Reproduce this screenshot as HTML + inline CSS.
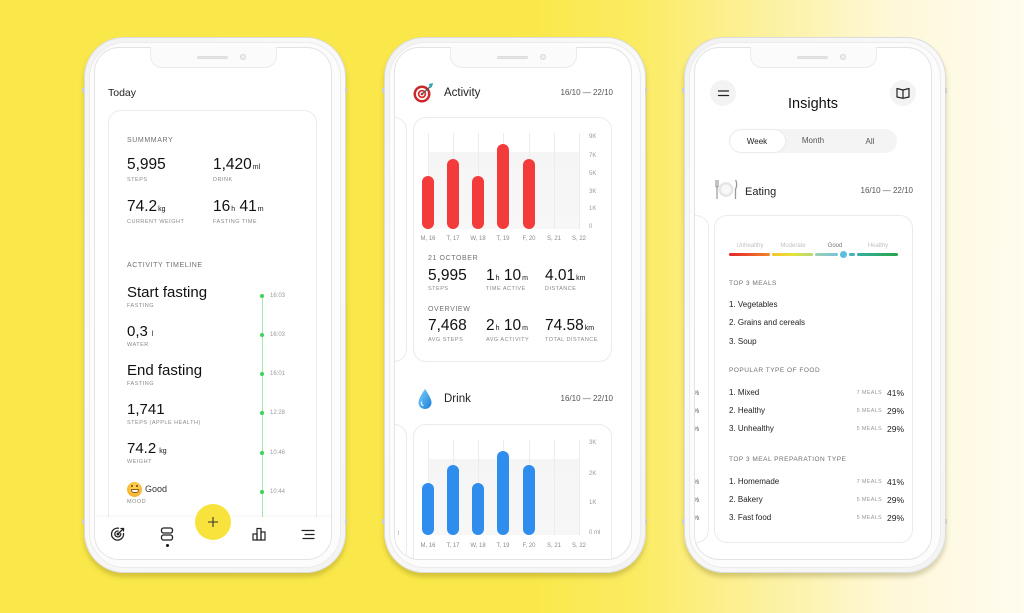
<!DOCTYPE html>
<html><head><meta charset="utf-8">
<style>
*{margin:0;padding:0;box-sizing:border-box}
html,body{width:1024px;height:613px;overflow:hidden}
body{position:relative;background:linear-gradient(90deg,#fae84a 0%,#fae84a 52%,#fbeb62 62%,#fcf1a0 75%,#fef8d8 87%,#fffcf0 100%);font-family:"Liberation Sans",Arial,sans-serif;color:#1a1a1a}
.a{position:absolute}
.t{position:absolute;white-space:nowrap;line-height:1}
.frame{position:absolute;top:37px;width:262px;height:536px;border-radius:40px;background:linear-gradient(135deg,#f2f2f2,#fafafa 40%,#f4f4f4);border:1px solid #dcdcdc;box-shadow:0 4px 5px rgba(95,85,0,.25)}
.ring{position:absolute;left:4px;top:4px;right:4px;bottom:4px;border-radius:36px;border:1px solid #ececec;background:#fcfcfc}
.screen{position:absolute;top:48px;width:236px;height:511px;border-radius:24px;background:#fff;overflow:hidden;box-shadow:0 0 0 1px #e3e3e3}
.in{position:absolute;top:-48px;width:1px;height:1px}
.notch{position:absolute;top:47px;width:127px;height:21px;background:#fbfbfb;border:1px solid #ebebeb;border-top:none;border-radius:0 0 12px 12px}
.spk{position:absolute;top:56px;width:31px;height:3px;border-radius:2px;background:#e6e6e6;border:1px solid #dcdcdc}
.cam{position:absolute;top:54px;width:6px;height:6px;border-radius:50%;background:#f0f0f0;border:1px solid #d6d6d6}
.tick{position:absolute;width:2px;height:5px;background:#cfcfcf}
.card{position:absolute;border:1px solid #ebebeb;border-radius:13px;background:#fff}
.hd{font-size:7px;letter-spacing:.6px;color:#707070}
.lb{font-size:5.5px;letter-spacing:.5px;color:#8a8a8a}
.big{font-size:15.5px;color:#111}
.big span{font-size:7px;margin-left:1px}
.mid{font-size:15px;color:#111}
.tm{font-size:6px;color:#9a9a9a}
.gl{position:absolute;width:1px;background:#ececec}
.bar{position:absolute;width:12px;border-radius:6px}
.yl{font-size:6px;color:#9a9a9a}
.xl{font-size:6px;color:#8a8a8a;width:30px;text-align:center}
.it{font-size:8px;color:#222}
.ml{font-size:5.5px;letter-spacing:.3px;color:#999;width:50px;text-align:right}
.pc{font-size:8.5px;color:#222}
</style></head><body>

<!-- ================= PHONE 1 ================= -->
<div class="frame" style="left:84px"><div class="ring"></div></div>
<div class="tick" style="left:82px;top:88px"></div>
<div class="tick" style="left:345px;top:88px"></div>
<div class="tick" style="left:82px;top:519px"></div>
<div class="tick" style="left:345px;top:519px"></div>
<div class="screen" style="left:95px">
 <div class="in" style="left:-95px">
  <div class="t" style="left:108px;top:88px;font-size:10.5px;color:#222">Today</div>
  <div class="card" style="left:108px;top:110px;width:209px;height:470px"></div>
  <div class="t hd" style="left:127px;top:136.5px">SUMMMARY</div>
  <div class="t big" style="left:127px;top:157px">5,995</div>
  <div class="t big" style="left:213px;top:157px">1,420<span>ml</span></div>
  <div class="t lb" style="left:127px;top:178px">STEPS</div>
  <div class="t lb" style="left:213px;top:178px">DRINK</div>
  <div class="t big" style="left:127px;top:199px">74.2<span>kg</span></div>
  <div class="t big" style="left:213px;top:199px">16<span>h</span> 41<span>m</span></div>
  <div class="t lb" style="left:127px;top:220px">CURRENT WEIGHT</div>
  <div class="t lb" style="left:213px;top:220px">FASTING TIME</div>
  <div class="t hd" style="left:127px;top:261.5px">ACTIVITY TIMELINE</div>

  <div class="a" style="left:262px;top:296px;width:1px;height:225px;background:#a3e8b0"></div>
  <div class="a" style="left:260px;top:294px;width:4px;height:4px;border-radius:50%;background:#3cd35c"></div>
  <div class="a" style="left:260px;top:333px;width:4px;height:4px;border-radius:50%;background:#3cd35c"></div>
  <div class="a" style="left:260px;top:372px;width:4px;height:4px;border-radius:50%;background:#3cd35c"></div>
  <div class="a" style="left:260px;top:411px;width:4px;height:4px;border-radius:50%;background:#3cd35c"></div>
  <div class="a" style="left:260px;top:451px;width:4px;height:4px;border-radius:50%;background:#3cd35c"></div>
  <div class="a" style="left:260px;top:490px;width:4px;height:4px;border-radius:50%;background:#3cd35c"></div>
  <div class="t tm" style="left:270px;top:293px">16:03</div>
  <div class="t tm" style="left:270px;top:332px">16:03</div>
  <div class="t tm" style="left:270px;top:371px">16:01</div>
  <div class="t tm" style="left:270px;top:410px">12:28</div>
  <div class="t tm" style="left:270px;top:450px">10:46</div>
  <div class="t tm" style="left:270px;top:489px">10:44</div>

  <div class="t mid" style="left:127px;top:284.5px">Start fasting</div>
  <div class="t lb" style="left:127px;top:304px">FASTING</div>
  <div class="t mid" style="left:127px;top:323.5px">0,3<span style="font-size:7px;margin-left:4px">l</span></div>
  <div class="t lb" style="left:127px;top:343px">WATER</div>
  <div class="t mid" style="left:127px;top:362.5px">End fasting</div>
  <div class="t lb" style="left:127px;top:382px">FASTING</div>
  <div class="t mid" style="left:127px;top:401.5px">1,741</div>
  <div class="t lb" style="left:127px;top:421px">STEPS (APPLE HEALTH)</div>
  <div class="t mid" style="left:127px;top:440.5px">74.2<span style="font-size:7px;margin-left:3px">kg</span></div>
  <div class="t lb" style="left:127px;top:460px">WEIGHT</div>
  <div class="a" style="left:127px;top:481.5px;width:15px;height:15px;border-radius:50%;background:radial-gradient(circle at 50% 35%,#ffd45a,#f2a623)"></div>
  <div class="a" style="left:130.5px;top:489px;width:8px;height:3.5px;border-radius:1px 1px 3px 3px;background:#fff;border:0.7px solid #8a5a10"></div>
  <div class="a" style="left:131px;top:485px;width:2px;height:1.5px;background:#6b4410;border-radius:1px"></div>
  <div class="a" style="left:136px;top:485px;width:2px;height:1.5px;background:#6b4410;border-radius:1px"></div>
  <div class="t" style="left:145px;top:484.5px;font-size:9px;color:#333">Good</div>
  <div class="t lb" style="left:127px;top:500px">MOOD</div>

  <!-- nav -->
  <div class="a" style="left:95px;top:517px;width:236px;height:45px;background:#fff;box-shadow:0 -1px 3px rgba(0,0,0,.05)"></div>
  <svg class="a" style="left:110px;top:526px" width="16" height="16" viewBox="0 0 16 16" fill="none" stroke="#222" stroke-width="1.3" stroke-linecap="round">
   <path d="M13.5 7.5A6 6 0 1 1 8.5 2.2"/><path d="M10.8 7.6A3 3 0 1 1 8.2 5"/><circle cx="8" cy="8" r="0.8" fill="#222"/>
   <path d="M8 8L13 3"/><path d="M11 2.5L13.5 2.5L13.5 5"/>
  </svg>
  <svg class="a" style="left:160px;top:527px" width="14" height="14" viewBox="0 0 14 14" fill="none" stroke="#222" stroke-width="1.3">
   <rect x="1.5" y="1" width="11" height="5" rx="2"/><rect x="1.5" y="8" width="11" height="5" rx="2"/>
  </svg>
  <div class="a" style="left:165.5px;top:544px;width:3px;height:3px;border-radius:50%;background:#111"></div>
  <div class="a" style="left:195px;top:504px;width:36px;height:36px;border-radius:50%;background:#f8e33c;box-shadow:0 0 0 2px #fff,0 1px 4px rgba(0,0,0,.06)"></div>
  <svg class="a" style="left:207px;top:516px" width="12" height="12" viewBox="0 0 12 12" stroke="#333" stroke-width="1.1"><path d="M6 1V11M1 6H11"/></svg>
  <svg class="a" style="left:252px;top:527px" width="14" height="14" viewBox="0 0 14 14" fill="none" stroke="#222" stroke-width="1.2">
   <rect x="1" y="7" width="4" height="6"/><rect x="5" y="1.5" width="4" height="11.5"/><rect x="9" y="5" width="4" height="8"/>
  </svg>
  <svg class="a" style="left:301px;top:529px" width="14" height="11" viewBox="0 0 14 11" stroke="#222" stroke-width="1.2" stroke-linecap="round">
   <path d="M1 1.5H13M4 5.5H13M2 9.5H13"/>
  </svg>
 </div>
</div>
<div class="notch" style="left:150px"></div>
<div class="spk" style="left:197px"></div>
<div class="cam" style="left:240px"></div>

<!-- ================= PHONE 2 ================= -->
<div class="frame" style="left:384px"><div class="ring"></div></div>
<div class="tick" style="left:382px;top:88px"></div>
<div class="tick" style="left:645px;top:88px"></div>
<div class="tick" style="left:382px;top:519px"></div>
<div class="tick" style="left:645px;top:519px"></div>
<div class="screen" style="left:395px">
 <div class="in" style="left:-395px">
  <svg class="a" style="left:412px;top:82px" width="24" height="22" viewBox="0 0 24 22">
   <circle cx="10" cy="12" r="8.5" fill="#c9282c"/><circle cx="10" cy="12" r="6" fill="#fff"/><circle cx="10" cy="12" r="4.3" fill="#d8322f"/><circle cx="10" cy="12" r="2.5" fill="#fff"/><circle cx="10" cy="12" r="1.3" fill="#c9282c"/>
   <path d="M10 12L19 4" stroke="#555" stroke-width="1.2"/><path d="M17 2L21 1L20 5L18 6Z" fill="#27a7b8"/>
  </svg>
  <div class="t" style="left:444px;top:88px;font-size:11.5px;color:#222">Activity</div>
  <div class="t" style="left:543px;top:89px;width:70px;text-align:right;font-size:8px;color:#555">16/10 — 22/10</div>

  <div class="card" style="left:330px;top:117px;width:77px;height:245px"></div>
  <div class="card" style="left:413px;top:117px;width:199px;height:245px"></div>
  <div class="a" style="left:428px;top:152px;width:152px;height:77px;background:linear-gradient(#f5f5f5,#f7f7f7)"></div>
  <div class="gl" style="left:428px;top:133px;height:96px"></div>
  <div class="gl" style="left:453px;top:133px;height:96px"></div>
  <div class="gl" style="left:478px;top:133px;height:96px"></div>
  <div class="gl" style="left:503px;top:133px;height:96px"></div>
  <div class="gl" style="left:529px;top:133px;height:96px"></div>
  <div class="gl" style="left:554px;top:133px;height:96px"></div>
  <div class="gl" style="left:579px;top:133px;height:96px"></div>
  <div class="bar" style="left:422px;top:176px;height:53px;background:#f43b3b"></div>
  <div class="bar" style="left:447px;top:158.5px;height:70.5px;background:#f43b3b"></div>
  <div class="bar" style="left:472px;top:176px;height:53px;background:#f43b3b"></div>
  <div class="bar" style="left:497px;top:144px;height:85px;background:#f43b3b"></div>
  <div class="bar" style="left:523px;top:158.5px;height:70.5px;background:#f43b3b"></div>
  <div class="t yl" style="left:589px;top:134px">9K</div>
  <div class="t yl" style="left:589px;top:152.5px">7K</div>
  <div class="t yl" style="left:589px;top:171px">5K</div>
  <div class="t yl" style="left:589px;top:188.5px">3K</div>
  <div class="t yl" style="left:589px;top:206px">1K</div>
  <div class="t yl" style="left:589px;top:224px">0</div>
  <div class="t xl" style="left:413px;top:236px">M, 16</div>
  <div class="t xl" style="left:438px;top:236px">T, 17</div>
  <div class="t xl" style="left:463px;top:236px">W, 18</div>
  <div class="t xl" style="left:488px;top:236px">T, 19</div>
  <div class="t xl" style="left:514px;top:236px">F, 20</div>
  <div class="t xl" style="left:539px;top:236px">S, 21</div>
  <div class="t xl" style="left:564px;top:236px">S, 22</div>

  <div class="t hd" style="left:428px;top:254.5px">21 OCTOBER</div>
  <div class="t big" style="left:428px;top:268px">5,995</div>
  <div class="t big" style="left:486px;top:268px">1<span>h</span> 10<span>m</span></div>
  <div class="t big" style="left:545px;top:268px">4.01<span>km</span></div>
  <div class="t lb" style="left:428px;top:287px">STEPS</div>
  <div class="t lb" style="left:486px;top:287px">TIME ACTIVE</div>
  <div class="t lb" style="left:545px;top:287px">DISTANCE</div>
  <div class="t hd" style="left:428px;top:305.5px">OVERVIEW</div>
  <div class="t big" style="left:428px;top:318px">7,468</div>
  <div class="t big" style="left:486px;top:318px">2<span>h</span> 10<span>m</span></div>
  <div class="t big" style="left:545px;top:318px">74.58<span>km</span></div>
  <div class="t lb" style="left:428px;top:338px">AVG STEPS</div>
  <div class="t lb" style="left:486px;top:338px">AVG ACTIVITY</div>
  <div class="t lb" style="left:545px;top:338px">TOTAL DISTANCE</div>

  <svg class="a" style="left:417px;top:388px" width="16" height="22" viewBox="0 0 16 22">
   <defs><linearGradient id="dg" x1="0" y1="0" x2="1" y2="1"><stop offset="0" stop-color="#7fd0ff"/><stop offset="1" stop-color="#1a7fd6"/></linearGradient></defs>
   <path d="M8 1C8 1 1.5 10 1.5 14.5A6.5 6.5 0 0 0 14.5 14.5C14.5 10 8 1 8 1Z" fill="url(#dg)"/>
   <path d="M4.5 14A3 3 0 0 0 6 17.5" stroke="#e8f6ff" stroke-width="1.2" fill="none" stroke-linecap="round"/>
  </svg>
  <div class="t" style="left:444px;top:394px;font-size:11.5px;color:#222">Drink</div>
  <div class="t" style="left:543px;top:395px;width:70px;text-align:right;font-size:8px;color:#555">16/10 — 22/10</div>

  <div class="card" style="left:330px;top:424px;width:77px;height:200px"></div>
  <div class="t" style="left:398px;top:531px;font-size:6px;color:#999">l</div>
  <div class="card" style="left:413px;top:424px;width:199px;height:200px"></div>
  <div class="a" style="left:428px;top:459px;width:152px;height:76px;background:linear-gradient(#f5f5f5,#f7f7f7)"></div>
  <div class="gl" style="left:428px;top:440px;height:95px"></div>
  <div class="gl" style="left:453px;top:440px;height:95px"></div>
  <div class="gl" style="left:478px;top:440px;height:95px"></div>
  <div class="gl" style="left:503px;top:440px;height:95px"></div>
  <div class="gl" style="left:529px;top:440px;height:95px"></div>
  <div class="gl" style="left:554px;top:440px;height:95px"></div>
  <div class="gl" style="left:579px;top:440px;height:95px"></div>
  <div class="bar" style="left:422px;top:482.5px;height:52.5px;background:#2e8ded"></div>
  <div class="bar" style="left:447px;top:465px;height:70px;background:#2e8ded"></div>
  <div class="bar" style="left:472px;top:482.5px;height:52.5px;background:#2e8ded"></div>
  <div class="bar" style="left:497px;top:450.5px;height:84.5px;background:#2e8ded"></div>
  <div class="bar" style="left:523px;top:465px;height:70px;background:#2e8ded"></div>
  <div class="t yl" style="left:589px;top:440px">3K</div>
  <div class="t yl" style="left:589px;top:471px">2K</div>
  <div class="t yl" style="left:589px;top:500px">1K</div>
  <div class="t yl" style="left:589px;top:530px">0 ml</div>
  <div class="t xl" style="left:413px;top:543px">M, 16</div>
  <div class="t xl" style="left:438px;top:543px">T, 17</div>
  <div class="t xl" style="left:463px;top:543px">W, 18</div>
  <div class="t xl" style="left:488px;top:543px">T, 19</div>
  <div class="t xl" style="left:514px;top:543px">F, 20</div>
  <div class="t xl" style="left:539px;top:543px">S, 21</div>
  <div class="t xl" style="left:564px;top:543px">S, 22</div>
 </div>
</div>
<div class="notch" style="left:450px"></div>
<div class="spk" style="left:497px"></div>
<div class="cam" style="left:540px"></div>

<!-- ================= PHONE 3 ================= -->
<div class="frame" style="left:684px"><div class="ring"></div></div>
<div class="tick" style="left:682px;top:88px"></div>
<div class="tick" style="left:945px;top:88px"></div>
<div class="tick" style="left:682px;top:519px"></div>
<div class="tick" style="left:945px;top:519px"></div>
<div class="screen" style="left:695px">
 <div class="in" style="left:-695px">
  <div class="a" style="left:710px;top:80px;width:26px;height:26px;border-radius:50%;background:#f3f3f3"></div>
  <svg class="a" style="left:717px;top:88px" width="13" height="10" viewBox="0 0 13 10" stroke="#222" stroke-width="1.3" stroke-linecap="round"><path d="M1.5 3H11.5M1.5 7.5H11.5"/></svg>
  <div class="a" style="left:890px;top:80px;width:26px;height:26px;border-radius:50%;background:#f3f3f3"></div>
  <svg class="a" style="left:896px;top:87px" width="14" height="12" viewBox="0 0 14 12" fill="none" stroke="#222" stroke-width="1.2" stroke-linejoin="round"><path d="M1 1.5L7 3L13 1.5V10L7 11.3L1 10Z"/><path d="M7 3V11.3"/></svg>
  <div class="t" style="left:753px;top:97px;width:120px;text-align:center;font-size:14.5px;color:#111">Insights</div>

  <div class="a" style="left:729px;top:129px;width:168px;height:24px;border-radius:12px;background:#f4f4f4"></div>
  <div class="a" style="left:730px;top:130px;width:55px;height:22px;border-radius:11px;background:#fff;box-shadow:0 0 2px rgba(0,0,0,.1)"></div>
  <div class="t" style="left:727px;top:137.5px;width:60px;text-align:center;font-size:8px;color:#222">Week</div>
  <div class="t" style="left:783px;top:137px;width:60px;text-align:center;font-size:8px;color:#555">Month</div>
  <div class="t" style="left:840px;top:137.5px;width:60px;text-align:center;font-size:8px;color:#555">All</div>

  <svg class="a" style="left:714px;top:179px" width="24" height="21" viewBox="0 0 24 21">
   <path d="M2 1V8M4 1V8M2 8H4M3 8V20" stroke="#999" stroke-width="1.2" fill="none"/>
   <circle cx="12" cy="10.5" r="7.5" fill="#e6e6e6"/><circle cx="12" cy="10.5" r="5" fill="#f8f8f8"/>
   <path d="M21.5 1C23 3 23 8 21.5 10V20" stroke="#999" stroke-width="1.3" fill="none"/>
  </svg>
  <div class="t" style="left:745px;top:186.5px;font-size:11px;color:#222">Eating</div>
  <div class="t" style="left:843px;top:187px;width:70px;text-align:right;font-size:8px;color:#555">16/10 — 22/10</div>

  <div class="card" style="left:630px;top:215px;width:79px;height:328px"></div>
  <div class="card" style="left:714px;top:215px;width:199px;height:328px"></div>
  <div class="t" style="left:725px;top:243px;width:50px;text-align:center;font-size:6px;color:#c2c2c2">Unhealthy</div>
  <div class="t" style="left:768px;top:243px;width:50px;text-align:center;font-size:6px;color:#c2c2c2">Moderate</div>
  <div class="t" style="left:810px;top:243px;width:50px;text-align:center;font-size:6px;color:#777">Good</div>
  <div class="t" style="left:853px;top:243px;width:50px;text-align:center;font-size:6px;color:#c2c2c2">Healthy</div>
  <div class="a" style="left:729px;top:253px;width:41px;height:3px;border-radius:2px;background:linear-gradient(90deg,#e3242b,#f3852a)"></div>
  <div class="a" style="left:772px;top:253px;width:41px;height:3px;border-radius:2px;background:linear-gradient(90deg,#f4c52b,#e6e23c,#b6d874)"></div>
  <div class="a" style="left:815px;top:253px;width:23px;height:3px;border-radius:2px;background:linear-gradient(90deg,#9fd0b0,#78c3da)"></div>
  <div class="a" style="left:849px;top:253px;width:6px;height:3px;border-radius:2px;background:#45b3c0"></div>
  <div class="a" style="left:857px;top:253px;width:41px;height:3px;border-radius:2px;background:linear-gradient(90deg,#35b0a0,#27a64a)"></div>
  <div class="a" style="left:838.5px;top:249.5px;width:9px;height:9px;border-radius:50%;background:#5bbde0;border:1px solid #fff"></div>

  <div class="t hd" style="left:729px;top:280.75px;font-size:6.5px;letter-spacing:.5px">TOP 3 MEALS</div>
  <div class="t it" style="left:729px;top:301px">1. Vegetables</div>
  <div class="t it" style="left:729px;top:319px">2. Grains and cereals</div>
  <div class="t it" style="left:729px;top:338px">3. Soup</div>
  <div class="t hd" style="left:729px;top:367.75px;font-size:6.5px;letter-spacing:.5px">POPULAR TYPE OF FOOD</div>
  <div class="t it" style="left:729px;top:389px">1. Mixed</div>
  <div class="t it" style="left:729px;top:407px">2. Healthy</div>
  <div class="t it" style="left:729px;top:425px">3. Unhealthy</div>
  <div class="t ml" style="left:832px;top:390.5px">7 MEALS</div>
  <div class="t ml" style="left:832px;top:408.5px">5 MEALS</div>
  <div class="t ml" style="left:832px;top:426.5px">5 MEALS</div>
  <div class="t pc" style="left:887px;top:389px">41%</div>
  <div class="t pc" style="left:887px;top:407px">29%</div>
  <div class="t pc" style="left:887px;top:425px">29%</div>
  <div class="t hd" style="left:729px;top:456.75px;font-size:6.5px;letter-spacing:.5px">TOP 3 MEAL PREPARATION TYPE</div>
  <div class="t it" style="left:729px;top:478px">1. Homemade</div>
  <div class="t it" style="left:729px;top:496px">2. Bakery</div>
  <div class="t it" style="left:729px;top:514px">3. Fast food</div>
  <div class="t ml" style="left:832px;top:479.5px">7 MEALS</div>
  <div class="t ml" style="left:832px;top:497.5px">5 MEALS</div>
  <div class="t ml" style="left:832px;top:515.5px">5 MEALS</div>
  <div class="t pc" style="left:887px;top:478px">41%</div>
  <div class="t pc" style="left:887px;top:496px">29%</div>
  <div class="t pc" style="left:887px;top:514px">29%</div>

  <div class="t" style="left:693px;top:389.5px;font-size:7px;color:#666">%</div>
  <div class="t" style="left:693px;top:407.5px;font-size:7px;color:#666">%</div>
  <div class="t" style="left:693px;top:425.5px;font-size:7px;color:#666">%</div>
  <div class="t" style="left:693px;top:478.5px;font-size:7px;color:#666">%</div>
  <div class="t" style="left:693px;top:496.5px;font-size:7px;color:#666">%</div>
  <div class="t" style="left:693px;top:514.5px;font-size:7px;color:#666">%</div>
 </div>
</div>
<div class="notch" style="left:750px"></div>
<div class="spk" style="left:797px"></div>
<div class="cam" style="left:840px"></div>

</body></html>
